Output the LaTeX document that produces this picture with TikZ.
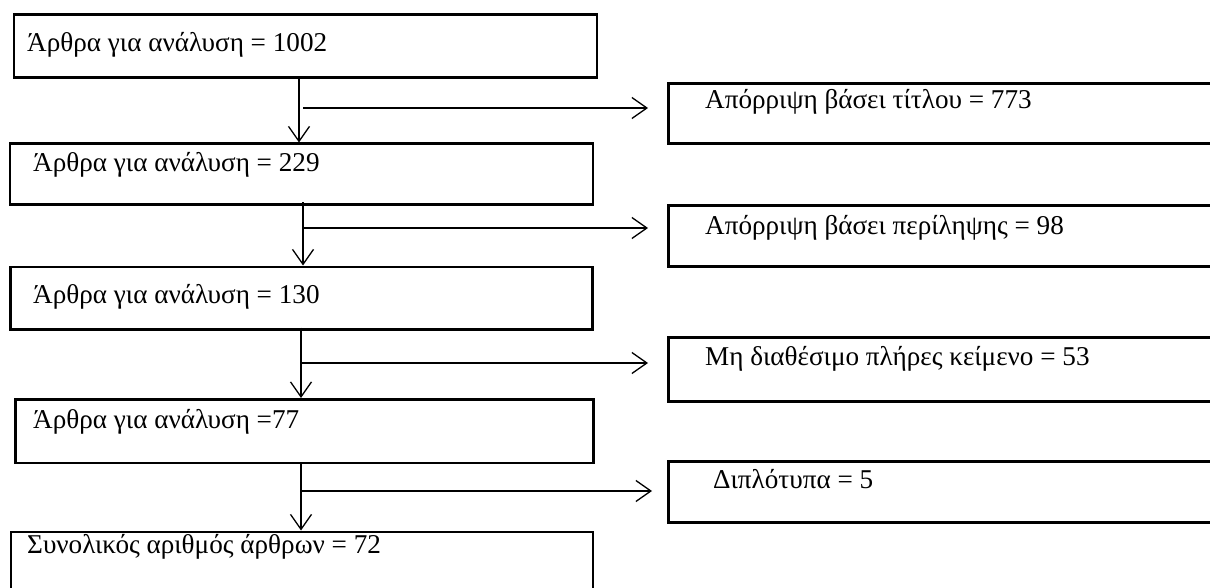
\documentclass[tikz,border=0pt]{standalone}
\usepackage{fontspec}
\setmainfont{Liberation Serif}
\usetikzlibrary{arrows.meta,calc}
\newlength\refwidth
\newcommand\labelfs{20}
\AtBeginDocument{%
  \settowidth\refwidth{\normalfont\fontsize{10pt}{12pt}\selectfont Άρθρα για ανάλυση = 1002}%
  \pgfmathsetmacro\labelfs{10*300/\refwidth}%
  \xdef\labelfs{\labelfs}}
\begin{document}
\begin{tikzpicture}[x=1pt,y=-1pt,
  box/.style={draw=black,line width=2.6pt,rectangle,anchor=north west,inner sep=0pt},
  lbl/.style={anchor=base west,inner sep=0pt,font=\fontsize{\labelfs pt}{30pt}\selectfont},
  arr/.style={draw=black,line width=1.3pt,-{Straight Barb[length=15pt,width=21pt,line width=1.3pt]}}]
\useasboundingbox (0,0) rectangle (1210,588);
% left column
\node[box,minimum width=583pt,minimum height=63pt] (b1) at (12.5,13) {};
\node[box,minimum width=583pt,minimum height=61pt] (b2) at (8.5,142.5) {};
\node[box,minimum width=582pt,minimum height=62.5pt] (b3) at (9,265.5) {};
\node[box,minimum width=578pt,minimum height=63.5pt] (b4) at (14,398) {};
\node[box,minimum width=582pt,minimum height=80pt] (b5) at (9.5,530.5) {};
% right column
\node[box,minimum width=560pt,minimum height=60pt] (r1) at (667,82.5) {};
\node[box,minimum width=560pt,minimum height=61pt] (r2) at (667,204) {};
\node[box,minimum width=560pt,minimum height=64pt] (r3) at (667,336) {};
\node[box,minimum width=560pt,minimum height=61pt] (r4) at (667,460) {};
% texts
\node[lbl] (t1) at (27,52) {Άρθρα για ανάλυση = 1002};
\node[lbl] (t2) at (33,172) {Άρθρα για ανάλυση = 229};
\node[lbl] (t3) at (33,303) {Άρθρα για ανάλυση = 130};
\node[lbl] (t4) at (33,428) {Άρθρα για ανάλυση =77};
\node[lbl] (t5) at (27,553) {Συνολικός αριθμός άρθρων = 72};
\node[lbl] (s1) at (705,109) {Απόρριψη βάσει τίτλου = 773};
\node[lbl] (s2) at (705,234) {Απόρριψη βάσει περίληψης = 98};
\node[lbl] (s3) at (705,365) {Μη διαθέσιμο πλήρες κείμενο = 53};
\node[lbl] (s4) at (713,488) {Διπλότυπα = 5};
% vertical positions of the trunk
\coordinate (v1) at (299,0);
\coordinate (v2) at (303,0);
\coordinate (v3) at (301,0);
\coordinate (v4) at (301,0);
% branch points
\coordinate (h1) at (303,108);
\coordinate (h2) at (303,228);
\coordinate (h3) at (301,363);
\coordinate (h4) at (301,491);
% trunk arrows
\draw[arr] (b1.south -| v1) -- (b2.north -| v1);
\draw[arr] ($(b2.south -| v2)+(0,-4)$) -- (b3.north -| v2);
\draw[arr] ($(b3.south -| v3)+(0,-3)$) -- (b4.north -| v3);
\draw[arr] (b4.south -| v4) -- (b5.north -| v4);
% branch arrows
\draw[arr,shorten >=19pt] (h1) -- (h1 -| r1.west);
\draw[arr,shorten >=19pt] (h2) -- (h2 -| r2.west);
\draw[arr,shorten >=19pt] (h3) -- (h3 -| r3.west);
\draw[arr,shorten >=15pt] (h4) -- (h4 -| r4.west);
\end{tikzpicture}
\end{document}
